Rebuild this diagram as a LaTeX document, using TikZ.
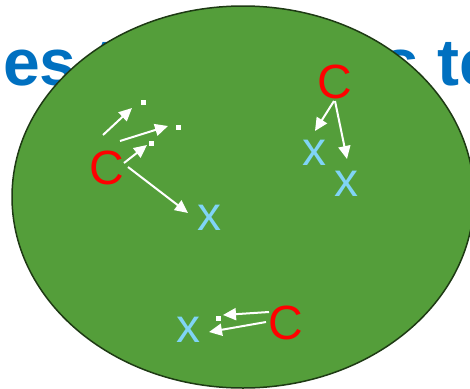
\documentclass[tikz,border=0pt]{standalone}
\usepackage{fontspec}
\setmainfont{Liberation Sans}
\usetikzlibrary{arrows.meta,shapes.geometric}
\definecolor{blobgreen}{RGB}{84,158,58}
\definecolor{blobedge}{RGB}{30,58,20}
\definecolor{titleblue}{RGB}{0,112,192}
\definecolor{cred}{RGB}{255,0,0}
\definecolor{xblue}{RGB}{128,212,246}
\tikzset{
  titletext/.style={font=\fontsize{66}{66}\selectfont\bfseries, text=titleblue, inner sep=0pt},
  cnode/.style={font=\fontsize{48}{48}\selectfont, text=cred, inner sep=0pt},
  xnode/.style={font=\fontsize{48}{48}\selectfont, text=xblue, inner sep=0pt},
  dotnode/.style={rectangle, fill=white, minimum size=5pt, inner sep=0pt},
  move/.style={draw=white, line width=2pt, -{Triangle[length=13pt,width=12pt]}},
}
\begin{document}
\begin{tikzpicture}[x=1pt,y=-1pt]
\useasboundingbox (0,0) rectangle (470,388);
% title behind the blob
\node[titletext, anchor=base west] (tleft) at (3,85) {es t};
\node[titletext, anchor=base west] (tright) at (382,85) {s te};
% blob
\node[ellipse, draw=blobedge, line width=1.5pt, fill=blobgreen,
      minimum width=462pt, minimum height=382pt, inner sep=0pt] (blob) at (243,197) {};
% left group
\node[cnode] (c1) at (107,168) {C};
\node[xnode] (x1) at (209,218) {x};
\node[dotnode] (d1) at (143,102) {};
\node[dotnode] (d2) at (178,127) {};
\node[dotnode] (d3) at (151,143) {};
% right group
\node[cnode] (c2) at (335,82) {C};
\node[xnode] (x2) at (314,153) {x};
\node[xnode] (x3) at (346,184) {x};
% bottom group
\node[cnode] (c3) at (286,323) {C};
\node[xnode] (x4) at (188,330) {x};
\node[dotnode] (d4) at (218,318) {};
% arrow end points
\coordinate (a1s) at (103,135); \coordinate (a1e) at (132,108);
\coordinate (a2s) at (120,141); \coordinate (a2e) at (168,126);
\coordinate (a3s) at (124,163); \coordinate (a3e) at (147,145);
\coordinate (a4s) at (128,167); \coordinate (a4e) at (188,213);
\coordinate (a5s) at (334,101); \coordinate (a5e) at (315,131);
\coordinate (a6s) at (335,101); \coordinate (a6e) at (347,159);
\coordinate (a7s) at (269,312); \coordinate (a7e) at (223,315);
\coordinate (a8s) at (266,322); \coordinate (a8e) at (209,332);
\draw[move] (a1s) -- (a1e);
\draw[move] (a2s) -- (a2e);
\draw[move] (a3s) -- (a3e);
\draw[move] (a4s) -- (a4e);
\draw[move] (a5s) -- (a5e);
\draw[move] (a6s) -- (a6e);
\draw[move] (a7s) -- (a7e);
\draw[move] (a8s) -- (a8e);
\end{tikzpicture}
\end{document}
